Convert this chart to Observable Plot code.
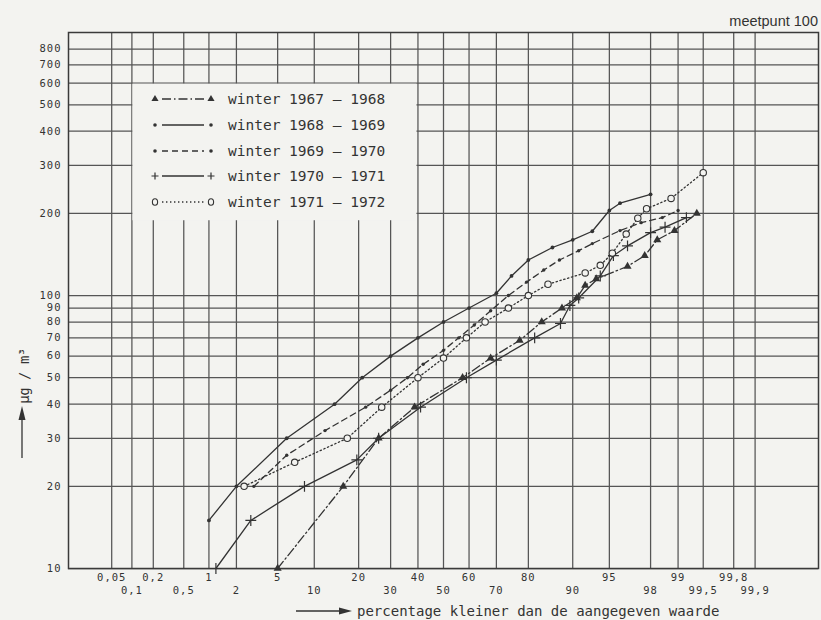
<!DOCTYPE html>
<html>
<head>
<meta charset="utf-8">
<script src="https://cdn.jsdelivr.net/npm/d3@7"></script>
<script src="https://cdn.jsdelivr.net/npm/@observablehq/plot@0.6"></script>
<style>
  html, body { margin: 0; padding: 0; background: #f3f3f0; }
  #wrap { position: relative; width: 821px; height: 620px; }
  #wrap svg.overlay { position: absolute; left: 0; top: 0; pointer-events: none; }
  .ticklab text { letter-spacing: 1px; }
</style>
</head>
<body>
<div id="wrap"></div>
<script>
// ---------- data (percent below value, µg/m³) ----------
const seriesNames = ["winter 1967 – 1968", "winter 1968 – 1969", "winter 1969 – 1970", "winter 1970 – 1971", "winter 1971 – 1972"];

const pct6768 = [5, 16, 26, 38.7, 57.5, 68, 77.5, 83.5, 88, 90.7, 92, 93.5, 96.6, 97.7, 98.3, 98.9, 99.4];
const val6768 = [10, 20, 30, 39, 50, 59, 68.5, 80, 90, 98, 109, 115, 128, 140, 160, 173, 200];

const pct6869 = [1, 2, 6, 14, 21, 30, 40, 50, 60, 70, 75, 80, 86, 90, 93, 95, 96, 98];
const val6869 = [15, 20, 30, 40, 50, 60, 70, 80, 90, 102, 118, 135, 150, 160, 172, 205, 218, 235];

const pct6970 = [3, 6, 12, 22, 30, 36, 42, 50, 56, 62, 68, 74, 79.5, 84, 87.5, 91, 93, 96, 97.5, 98.5, 99];
const val6970 = [20, 26, 32, 39, 45, 50, 56, 63, 70, 78, 88, 100, 112, 124, 135, 146, 155, 173, 185, 193, 205];

const pct7071 = [1.2, 2.8, 8.4, 19.5, 26, 41, 59, 70, 81.7, 87.7, 89.5, 91, 94, 95.4, 96.6, 98, 98.6, 99.2];
const val7071 = [10, 15, 20, 25, 30, 39, 50, 58, 70, 79, 92, 98, 118, 140, 152, 170, 178, 193];

const pct7172 = [2.4, 7, 17, 27, 40, 50, 59, 66, 74, 80, 85, 92, 94, 95.3, 96.5, 97.3, 97.8, 98.8, 99.5];
const val7172 = [20, 24.5, 30, 39, 50, 59, 70, 80, 90, 100, 110, 121, 129, 143, 168, 192, 208, 227, 282];

const yTicks = [10, 20, 30, 40, 50, 60, 70, 80, 90, 100, 200, 300, 400, 500, 600, 700, 800];
const xGrid = [0.05, 0.1, 0.2, 0.5, 1, 2, 5, 10, 20, 30, 40, 50, 60, 70, 80, 90, 95, 98, 99, 99.5, 99.8, 99.9];
const xTicksRow1 = [0.05, 0.2, 1, 5, 20, 40, 60, 80, 95, 99, 99.8];
const xTicksRow2 = [0.1, 0.5, 2, 10, 30, 50, 70, 90, 98, 99.5, 99.9];
const xDomainPct = [0.01, 99.99];

// ---------- helpers ----------
function probit(p) {
  const a = [-3.969683028665376e+01, 2.209460984245205e+02, -2.759285104469687e+02, 1.383577518672690e+02, -3.066479806614716e+01, 2.506628277459239e+00];
  const b = [-5.447609879822406e+01, 1.615858368580409e+02, -1.556989798598866e+02, 6.680131188771972e+01, -1.328068155288572e+01];
  const c = [-7.784894002430293e-03, -3.223964580411365e-01, -2.400758277161838e+00, -2.549732539343734e+00, 4.374664141464968e+00, 2.938163982698783e+00];
  const d = [7.784695709041462e-03, 3.224671290700398e-01, 2.445134137142996e+00, 3.754408661907416e+00];
  const pl = 0.02425, ph = 1 - pl;
  let q, r;
  if (p < pl) {
    q = Math.sqrt(-2 * Math.log(p));
    return (((((c[0]*q+c[1])*q+c[2])*q+c[3])*q+c[4])*q+c[5]) / ((((d[0]*q+d[1])*q+d[2])*q+d[3])*q+1);
  }
  if (p <= ph) {
    q = p - 0.5; r = q * q;
    return (((((a[0]*r+a[1])*r+a[2])*r+a[3])*r+a[4])*r+a[5])*q / (((((b[0]*r+b[1])*r+b[2])*r+b[3])*r+b[4])*r+1);
  }
  q = Math.sqrt(-2 * Math.log(1 - p));
  return -(((((c[0]*q+c[1])*q+c[2])*q+c[3])*q+c[4])*q+c[5]) / ((((d[0]*q+d[1])*q+d[2])*q+d[3])*q+1);
}
const px = p => probit(p / 100);
const fmt = d => String(d).replace(".", ",");
const toRows = (pcts, vals) => pcts.map((p, i) => ({p, v: vals[i]}));

const s1 = toRows(pct6768, val6768);
const s2 = toRows(pct6869, val6869);
const s3 = toRows(pct6970, val6970);
const s4 = toRows(pct7071, val7071);
const s5 = toRows(pct7172, val7172);

const bg = "#f3f3f0";
const ink = "#333";
const gridInk = "#555";
const lineOpts = {x: d => px(d.p), y: "v", stroke: ink, strokeWidth: 1.3};

const chart = Plot.plot({
  width: 821,
  height: 620,
  marginLeft: 68,
  marginRight: 3,
  marginTop: 32,
  marginBottom: 52,
  x: {type: "linear", domain: xDomainPct.map(px), axis: null},
  y: {type: "log", domain: [10, 920], axis: null},
  style: {background: bg, fontFamily: "DejaVu Sans Mono", color: ink},
  marks: [
    Plot.ruleY(yTicks, {stroke: gridInk, strokeWidth: 1.25}),
    Plot.ruleX(xGrid, {x: d => px(d), stroke: gridInk, strokeWidth: 1.25}),
    // blank area behind the legend
    Plot.rect([0], {x1: px(0.1), x2: px(40), y1: 188, y2: 600, fill: bg, insetLeft: 1, insetRight: 1, insetTop: 1}),
    Plot.frame({stroke: "#3a3a3a", strokeWidth: 1.5}),
    // series
    Plot.line(s1, {...lineOpts, strokeDasharray: "9,3,1.5,3"}),
    Plot.line(s2, {...lineOpts}),
    Plot.line(s3, {...lineOpts, strokeDasharray: "6,4"}),
    Plot.line(s4, {...lineOpts}),
    Plot.line(s5, {...lineOpts, strokeDasharray: "1.4,2.6"}),
    Plot.dot(s1, {x: d => px(d.p), y: "v", symbol: "triangle", r: 3, fill: ink, stroke: "none"}),
    Plot.dot(s2, {x: d => px(d.p), y: "v", r: 1.9, fill: ink, stroke: "none"}),
    Plot.dot(s3, {x: d => px(d.p), y: "v", r: 1.7, fill: ink, stroke: "none"}),
    Plot.dot(s4, {x: d => px(d.p), y: "v", symbol: "plus", r: 3.6, stroke: ink, strokeWidth: 1.2}),
    Plot.dot(s5, {x: d => px(d.p), y: "v", symbol: "circle", r: 3.2, stroke: ink, fill: bg, strokeWidth: 1.1}),
    // tick labels
    Plot.text(yTicks, {y: d => d, frameAnchor: "left", dx: -7, textAnchor: "end", text: d => String(d), fontSize: 10.5, fill: ink, className: "ticklab"}),
    Plot.text(xTicksRow1, {x: d => px(d), frameAnchor: "bottom", dy: 12, text: fmt, fontSize: 10.5, fill: ink, className: "ticklab"}),
    Plot.text(xTicksRow2, {x: d => px(d), frameAnchor: "bottom", dy: 25, text: fmt, fontSize: 10.5, fill: ink, className: "ticklab"})
  ]
});
document.getElementById("wrap").appendChild(chart);

// ---------- overlay: legend, axis titles, station label ----------
const ov = d3.select("#wrap").append("svg")
  .attr("class", "overlay").attr("width", 821).attr("height", 620)
  .style("font-family", "DejaVu Sans Mono").style("fill", ink);

const rowsY = [99, 125, 151, 176, 202];
const sx0 = 155, sx1 = 211;
const lg = ov.append("g");
const styles = [
  {dash: "9,3,1.5,3", mark: "tri"},
  {dash: null, mark: "dot"},
  {dash: "6,4", mark: "dot"},
  {dash: null, mark: "plus"},
  {dash: "1.4,2.6", mark: "circ"}
];
styles.forEach((s, i) => {
  const y = rowsY[i];
  lg.append("line").attr("x1", sx0 + 7).attr("x2", sx1 - 7).attr("y1", y).attr("y2", y)
    .attr("stroke", ink).attr("stroke-width", 1.3).attr("stroke-dasharray", s.dash);
  [sx0, sx1].forEach(x => {
    if (s.mark === "tri") lg.append("path").attr("d", d3.symbol(d3.symbolTriangle, 22)()).attr("transform", `translate(${x},${y})`).attr("fill", ink);
    if (s.mark === "dot") lg.append("circle").attr("cx", x).attr("cy", y).attr("r", 1.8).attr("fill", ink);
    if (s.mark === "plus") lg.append("path").attr("d", `M${x-3.5},${y}H${x+3.5}M${x},${y-3.5}V${y+3.5}`).attr("stroke", ink).attr("stroke-width", 1.2);
    if (s.mark === "circ") lg.append("ellipse").attr("cx", x).attr("cy", y).attr("rx", 2.6).attr("ry", 3.3).attr("fill", "none").attr("stroke", ink).attr("stroke-width", 1.1);
  });
  lg.append("text").attr("x", 228).attr("y", y).attr("dy", "0.35em")
    .attr("font-size", 14.5).text(seriesNames[i]);
});

// station label
ov.append("text").attr("x", 818).attr("y", 26).attr("text-anchor", "end")
  .style("font-family", "Liberation Sans, Arial, sans-serif").attr("font-size", 14.5).text("meetpunt 100");

// x-axis title with arrow
ov.append("line").attr("x1", 296).attr("x2", 342).attr("y1", 611).attr("y2", 611).attr("stroke", ink).attr("stroke-width", 1.3);
ov.append("path").attr("d", "M352,611L339,607.5L339,614.5Z").attr("fill", ink);
ov.append("text").attr("x", 357).attr("y", 611).attr("dy", "0.35em").attr("font-size", 14)
  .text("percentage kleiner dan de aangegeven waarde");

// y-axis title with arrow
ov.append("line").attr("x1", 22).attr("x2", 22).attr("y1", 458).attr("y2", 418).attr("stroke", ink).attr("stroke-width", 1.3);
ov.append("path").attr("d", "M22,406L18.5,420L25.5,420Z").attr("fill", ink);
ov.append("text").attr("transform", "translate(24,376) rotate(-90)").attr("text-anchor", "middle")
  .attr("dy", "0.35em").attr("font-size", 14).style("letter-spacing", "-0.5px").text("µg / m³");
</script>
</body>
</html>
